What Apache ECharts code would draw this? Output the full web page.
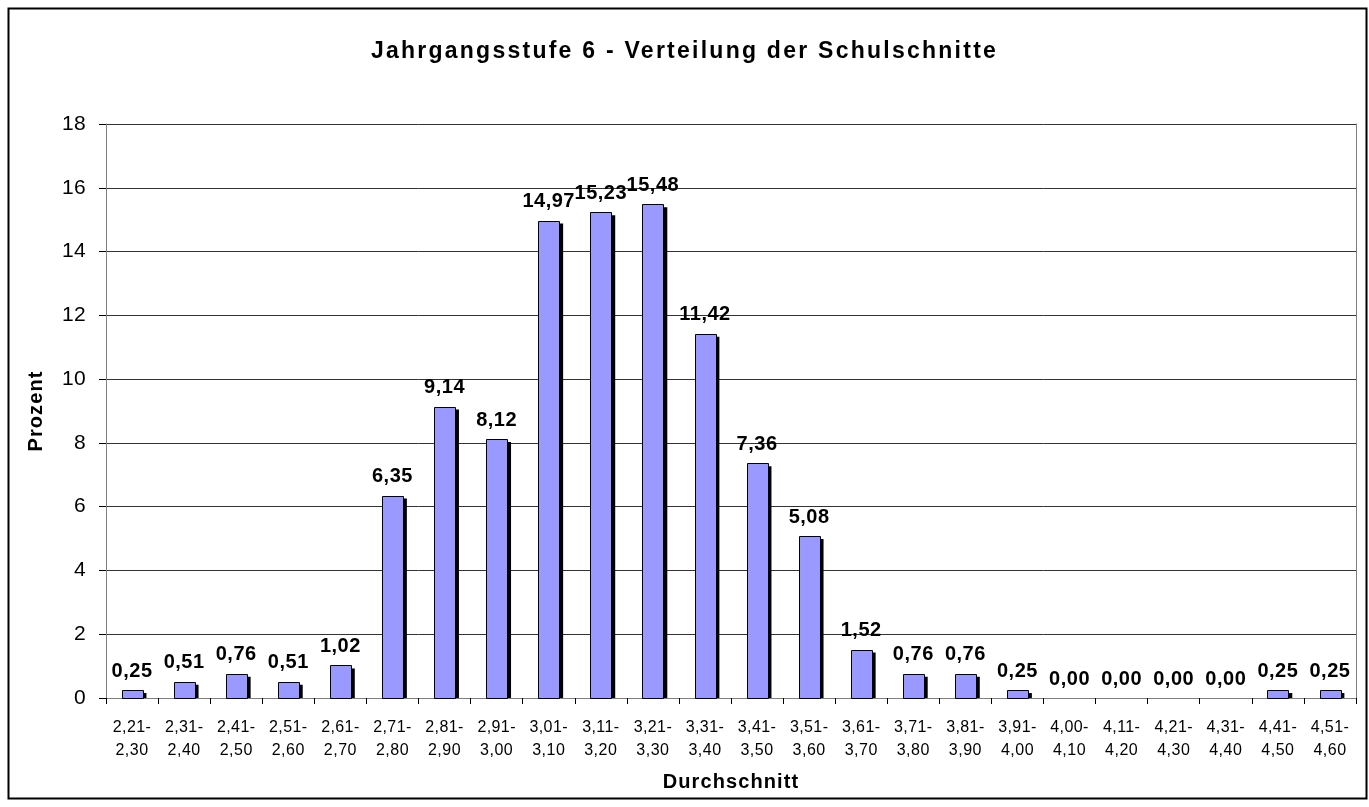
<!DOCTYPE html>
<html><head><meta charset="utf-8">
<script src="https://cdn.jsdelivr.net/npm/echarts@6/dist/echarts.min.js"></script>
<style>html,body{margin:0;padding:0;background:#fff}#c{width:1369px;height:807px}</style>
</head><body><div id="c"></div>
<script>
const categories = ["2,21-\n2,30","2,31-\n2,40","2,41-\n2,50","2,51-\n2,60","2,61-\n2,70","2,71-\n2,80","2,81-\n2,90","2,91-\n3,00","3,01-\n3,10","3,11-\n3,20","3,21-\n3,30","3,31-\n3,40","3,41-\n3,50","3,51-\n3,60","3,61-\n3,70","3,71-\n3,80","3,81-\n3,90","3,91-\n4,00","4,00-\n4,10","4,11-\n4,20","4,21-\n4,30","4,31-\n4,40","4,41-\n4,50","4,51-\n4,60"];
const values = [0.25,0.51,0.76,0.51,1.02,6.35,9.14,8.12,14.97,15.23,15.48,11.42,7.36,5.08,1.52,0.76,0.76,0.25,0,0,0,0,0.25,0.25];
const titleText = "Jahrgangsstufe 6 - Verteilung der Schulschnitte";
const xName = "Durchschnitt";
const yName = "Prozent";

// letter spacing to mimic the widely spaced original text
(function(){
  const P = CanvasRenderingContext2D.prototype;
  function sp(ctx, t){
    t = String(t);
    let ls = 0.4;
    if (t === titleText) ls = 2.25;
    else if (/^\d+,\d\d$/.test(t)) ls = 0.5;
    else if (t === xName || t === yName) ls = 1.1;
    else if (/^\d+$/.test(t)) ls = 0.3;
    try { ctx.letterSpacing = ls + 'px'; } catch(e) {}
  }
  const f = P.fillText, st = P.strokeText;
  P.fillText = function(t){ sp(this, t); return f.apply(this, arguments); };
  P.strokeText = function(t){ sp(this, t); return st.apply(this, arguments); };
})();

const chart = echarts.init(document.getElementById('c'), null, {renderer:'canvas'});
const F = 'Liberation Sans, Arial, sans-serif';
chart.setOption({
  animation:false,
  textStyle:{fontFamily:F},
  title:{text:titleText,left:'center',top:35,textStyle:{fontSize:23,fontWeight:'bold',color:'#000',fontFamily:F}},
  graphic:[{type:'rect',shape:{x:8.5,y:8.5,width:1358,height:790},style:{fill:'none',stroke:'#000',lineWidth:2},silent:true}],
  grid:{left:106,right:13,top:124,bottom:109,containLabel:false},
  xAxis:[{type:'category',data:categories,
    axisLine:{lineStyle:{color:'#000',width:1}},
    axisTick:{show:true,alignWithLabel:false,length:6,lineStyle:{color:'#000'}},
    axisLabel:{fontSize:16,color:'#000',lineHeight:23,margin:18,interval:0,fontFamily:F},
    name:xName,nameLocation:'middle',nameGap:74,
    nameTextStyle:{fontSize:20,fontWeight:'bold',color:'#000',fontFamily:F}},
   {type:'category',data:categories,position:'top',
    axisLine:{show:true,lineStyle:{color:'#808080',width:1}},axisTick:{show:false},axisLabel:{show:false},splitLine:{show:false}}],
  yAxis:[{type:'value',min:0,max:18,interval:2,
    axisLine:{show:true,lineStyle:{color:'#808080'}},
    axisTick:{show:true,length:7,lineStyle:{color:'#000'}},
    axisLabel:{fontSize:21,color:'#000',margin:20,fontFamily:F},
    splitLine:{lineStyle:{color:'#333',width:1}},
    name:yName,nameLocation:'middle',nameGap:60,
    nameTextStyle:{fontSize:20,fontWeight:'bold',color:'#000',fontFamily:F}},
   {type:'value',min:0,max:18,interval:2,position:'right',
    axisLine:{show:true,lineStyle:{color:'#808080'}},axisTick:{show:false},axisLabel:{show:false},splitLine:{show:false}}],
  series:[{type:'custom',
    data:values.map((v,i)=>[i,v]),
    encode:{x:0,y:1},
    z:5,
    renderItem:function(params, api){
      const i = api.value(0), v = api.value(1);
      const top = api.coord([i, v]);
      const base = api.coord([i, 0]);
      const bw = api.size([1,0])[0] * 0.4;
      const x = top[0] - bw/2;
      const h = base[1] - top[1];
      const children = [];
      if (h > 0.5) {
        children.push({type:'rect',shape:{x:x+4,y:top[1]+3,width:bw,height:Math.max(0,h-3)},style:{fill:'#000'}});
        children.push({type:'rect',shape:{x:Math.round(x)+0.5,y:Math.round(top[1])+0.5,width:Math.round(bw),height:Math.round(h)},style:{fill:'#9999ff',stroke:'#000',lineWidth:1}});
      }
      children.push({type:'text',style:{text:v.toFixed(2).replace('.',','),x:top[0],y:top[1]-9,align:'center',verticalAlign:'bottom',
        font:'bold 20px Liberation Sans, Arial, sans-serif',fill:'#000'}});
      return {type:'group',children:children};
    }}]
});
</script></body></html>
